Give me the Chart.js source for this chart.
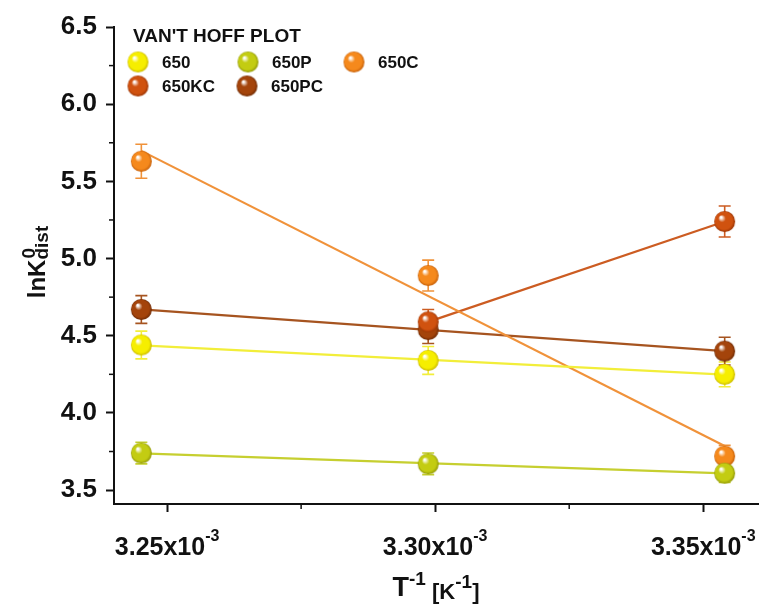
<!DOCTYPE html>
<html>
<head>
<meta charset="utf-8">
<script src="https://cdn.jsdelivr.net/npm/chart.js@4"></script>
<style>
  html, body { margin: 0; padding: 0; background: #fff; overflow: hidden; }
  #wrap { width: 759px; height: 604px; }
</style>
</head>
<body>
<div id="wrap"><canvas id="vantHoff" width="759" height="604"></canvas></div>
<script>
// 1/T for 308.15 K, 303.15 K and 298.15 K
const invT = [0.0032452, 0.0032987, 0.0033540];

const names = ["650", "650P", "650C", "650KC", "650PC"];
const v650   = [4.44, 4.34, 4.25];
const v650P  = [3.74, 3.67, 3.61];
const v650C  = [5.63, 4.89, 3.72];
const v650KC = [null, 4.59, 5.24];
const v650PC = [4.67, 4.54, 4.40];

const e650   = [0.09, 0.09, 0.08];
const e650P  = [0.07, 0.07, 0.06];
const e650C  = [0.11, 0.10, 0.07];
const e650KC = [null, 0.08, 0.10];
const e650PC = [0.09, 0.09, 0.09];

const xTicks = [0.00325, 0.00330, 0.00335];
const xMinor = [0.003275, 0.003325];
const yTicks = [3.5, 4.0, 4.5, 5.0, 5.5, 6.0, 6.5];
const yMinor = [3.75, 4.25, 4.75, 5.25, 5.75, 6.25];

const values = [v650, v650P, v650C, v650KC, v650PC];
const errors = [e650, e650P, e650C, e650KC, e650PC];
const markColor = ["#f6ee00", "#c3cc12", "#f5891c", "#d0520f", "#a4440b"];
const edgeColor = ["#c9b800", "#8f9608", "#c45e08", "#9a3404", "#6e2a04"];
const lineColor = ["#f2ee3a", "#c6cf30", "#f0923a", "#cc5c22", "#a65420"];

// shiny ball marker
function sphere(col, edge, r) {
  const c = document.createElement("canvas");
  c.width = c.height = 2 * r + 2;
  const g = c.getContext("2d");
  const m = r + 1;
  const grad = g.createRadialGradient(m - r * 0.35, m - r * 0.4, r * 0.08, m, m, r);
  grad.addColorStop(0, "#ffffff");
  grad.addColorStop(0.3, col);
  grad.addColorStop(0.8, col);
  grad.addColorStop(1, edge);
  g.fillStyle = grad;
  g.beginPath();
  g.arc(m, m, r, 0, Math.PI * 2);
  g.fill();
  return c;
}
const balls = markColor.map((c, i) => sphere(c, edgeColor[i], 10.5));

// least squares straight line over the measured points
function fitLine(ys) {
  const pts = invT.map((x, i) => [x, ys[i]]).filter(p => p[1] != null);
  const n = pts.length;
  const mx = pts.reduce((s, p) => s + p[0], 0) / n;
  const my = pts.reduce((s, p) => s + p[1], 0) / n;
  let sxy = 0, sxx = 0;
  pts.forEach(p => { sxy += (p[0] - mx) * (p[1] - my); sxx += (p[0] - mx) ** 2; });
  const b = sxy / sxx;
  const x0 = pts[0][0], x1 = pts[n - 1][0];
  return [{ x: x0, y: my + b * (x0 - mx) }, { x: x1, y: my + b * (x1 - mx) }];
}

const datasets = [];
names.forEach((name, i) => {
  datasets.push({
    label: name + " fit",
    data: fitLine(values[i]),
    showLine: true,
    borderColor: lineColor[i],
    borderWidth: 2.2,
    pointRadius: 0,
    order: 10
  });
});
names.forEach((name, i) => {
  datasets.push({
    label: name,
    data: invT.map((x, j) => ({ x: x, y: values[i][j], err: errors[i][j] })).filter(p => p.y != null),
    pointStyle: balls[i],
    pointRadius: 10,
    showLine: false,
    errColor: lineColor[i],
    order: 1
  });
});

const errorBars = {
  id: "errorBars",
  beforeDatasetsDraw(chart) {
    const ctx = chart.ctx, xs = chart.scales.x, ys = chart.scales.y;
    chart.data.datasets.forEach(ds => {
      if (!ds.errColor) return;
      ctx.save();
      ctx.strokeStyle = ds.errColor;
      ctx.lineWidth = 1.6;
      ds.data.forEach(p => {
        const px = xs.getPixelForValue(p.x);
        const top = ys.getPixelForValue(p.y + p.err);
        const bot = ys.getPixelForValue(p.y - p.err);
        ctx.beginPath();
        ctx.moveTo(px, top); ctx.lineTo(px, bot);
        ctx.moveTo(px - 6, top); ctx.lineTo(px + 6, top);
        ctx.moveTo(px - 6, bot); ctx.lineTo(px + 6, bot);
        ctx.stroke();
      });
      ctx.restore();
    });
  }
};

const decorations = {
  id: "decorations",
  afterDraw(chart) {
    const ctx = chart.ctx, xs = chart.scales.x, ys = chart.scales.y;
    const area = chart.chartArea;
    ctx.save();
    ctx.strokeStyle = "#111";
    ctx.fillStyle = "#111";

    // minor ticks
    ctx.lineWidth = 1.5;
    yMinor.forEach(v => {
      const py = ys.getPixelForValue(v);
      ctx.beginPath(); ctx.moveTo(area.left - 5, py); ctx.lineTo(area.left, py); ctx.stroke();
    });
    xMinor.forEach(v => {
      const px = xs.getPixelForValue(v);
      ctx.beginPath(); ctx.moveTo(px, area.bottom); ctx.lineTo(px, area.bottom + 5); ctx.stroke();
    });

    // x tick labels with exponent
    ctx.textBaseline = "alphabetic";
    ctx.textAlign = "left";
    xTicks.forEach(v => {
      const px = xs.getPixelForValue(v);
      const main = (v * 1000).toFixed(2) + "x10";
      ctx.font = "bold 25px Arial";
      const w1 = ctx.measureText(main).width;
      ctx.font = "bold 16px Arial";
      const w2 = ctx.measureText("-3").width;
      const x0 = px - (w1 + w2) / 2;
      ctx.font = "bold 25px Arial";
      ctx.fillText(main, x0, 555);
      ctx.font = "bold 16px Arial";
      ctx.fillText("-3", x0 + w1, 541);
    });

    // x axis title: T^-1 [K^-1]
    const parts = [
      ["T", "bold 27px Arial", 0],
      ["-1", "bold 19px Arial", -11],
      [" [K", "bold 22px Arial", 3],
      ["-1", "bold 19px Arial", -8],
      ["]", "bold 22px Arial", 3]
    ];
    let tw = 0;
    parts.forEach(p => { ctx.font = p[1]; tw += ctx.measureText(p[0]).width; });
    let cx = 436 - tw / 2;
    parts.forEach(p => {
      ctx.font = p[1];
      ctx.fillText(p[0], cx, 596 + p[2]);
      cx += ctx.measureText(p[0]).width;
    });

    // y axis title: lnK with stacked 0 / dist
    ctx.save();
    ctx.translate(45, 262);
    ctx.rotate(-Math.PI / 2);
    ctx.font = "bold 24px Arial";
    const wl = ctx.measureText("lnK").width;
    ctx.font = "bold 19px Arial";
    const wd = ctx.measureText("dist").width;
    const sx = -(wl + wd) / 2;
    ctx.font = "bold 24px Arial";
    ctx.fillText("lnK", sx, 0);
    ctx.font = "bold 19px Arial";
    ctx.fillText("dist", sx + wl, 3);
    ctx.fillText("0", sx + wl + 1, -10);
    ctx.restore();

    // legend
    ctx.font = "bold 19px Arial";
    ctx.textBaseline = "middle";
    ctx.fillText("VAN'T HOFF PLOT", 133, 37);
    const slots = [[138, 62], [248, 62], [354, 62], [138, 86], [247, 86]];
    ctx.font = "bold 17px Arial";
    names.forEach((name, i) => {
      const s = slots[i];
      ctx.drawImage(balls[i], s[0] - 11.5, s[1] - 11.5);
      ctx.fillText(name, s[0] + 24, s[1] + 1);
    });
    ctx.restore();
  }
};

new Chart(document.getElementById("vantHoff"), {
  type: "scatter",
  data: { datasets: datasets },
  options: {
    responsive: false,
    animation: false,
    layout: { autoPadding: false, padding: { top: 27, right: 0, left: 0, bottom: 0 } },
    plugins: { legend: { display: false }, tooltip: { enabled: false } },
    scales: {
      x: {
        type: "linear",
        min: 0.0032401,
        max: 0.0033604,
        afterBuildTicks: s => { s.ticks = xTicks.map(v => ({ value: v })); },
        afterFit: s => { s.height = 100; },
        ticks: { callback: () => "", autoSkip: false },
        grid: { drawOnChartArea: false, tickLength: 8, tickWidth: 2, tickColor: "#111" },
        border: { color: "#111", width: 2 }
      },
      y: {
        type: "linear",
        min: 3.41,
        max: 6.5,
        afterBuildTicks: s => { s.ticks = yTicks.map(v => ({ value: v })); },
        afterFit: s => { s.width = 114; },
        ticks: {
          callback: v => v.toFixed(1),
          color: "#111",
          padding: 9,
          font: { family: "Arial", size: 26, weight: "bold" }
        },
        grid: { drawOnChartArea: false, tickLength: 8, tickWidth: 2, tickColor: "#111" },
        border: { color: "#111", width: 2 }
      }
    }
  },
  plugins: [errorBars, decorations]
});
</script>
</body>
</html>
